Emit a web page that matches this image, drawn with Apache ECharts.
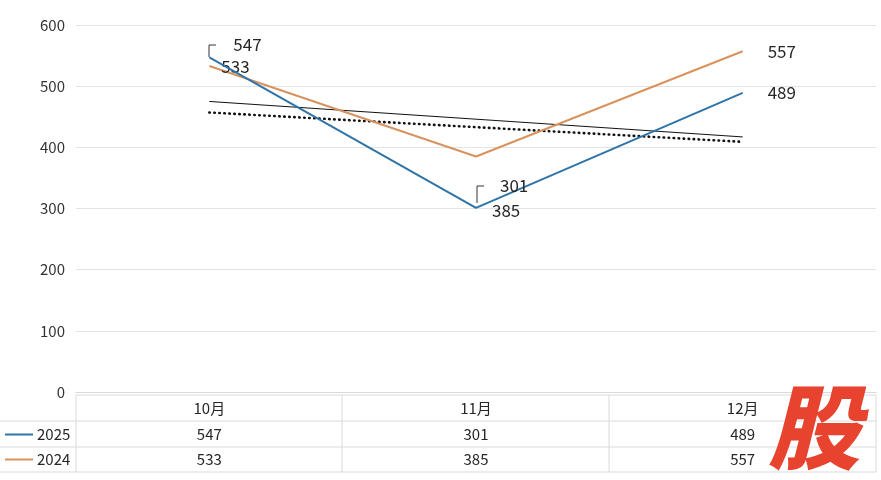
<!DOCTYPE html>
<html>
<head>
<meta charset="utf-8">
<script src="https://cdn.jsdelivr.net/npm/echarts@6/dist/echarts.min.js"></script>
<style>
  html, body { margin: 0; padding: 0; background: #fff; }
  #chart { width: 881px; height: 480px; }
</style>
</head>
<body>
<div id="chart"></div>
<script>
// data
var months = ['10月', '11月', '12月'];
var sales2025 = [547, 301, 489];
var sales2024 = [533, 385, 557];
var trendSolid = [475, 446, 417];
var trendDotted = [457, 433, 409];
var yTicks = { min: 0, max: 600, interval: 100 };

var blue = '#2e74a6';
var orange = '#d8925d';
var txt = '#262626';
var font = '"Noto Sans CJK SC", "Noto Sans", sans-serif';

// layout of the plot and the data table under it
var gLeft = 76, gRight = 876, gTop = 25, gBottom = 392;
var rows = [395, 421, 447, 472];
var cols = [76, 342, 609, 876];

var chart = echarts.init(document.getElementById('chart'));

function rowAxis(data, margin) {
  return {
    type: 'category', data: data, position: 'bottom', gridIndex: 0,
    axisLine: { show: false }, axisTick: { show: false }, splitLine: { show: false },
    axisLabel: { margin: margin, verticalAlign: 'middle', fontSize: 15, color: txt, fontFamily: font }
  };
}

// table lines
var lines = [];
lines.push({ type: 'line', shape: { x1: cols[0], y1: rows[0], x2: cols[3], y2: rows[0] } });
for (var r = 1; r < rows.length; r++) {
  lines.push({ type: 'line', shape: { x1: 0, y1: rows[r], x2: cols[3], y2: rows[r] } });
}
for (var c = 0; c < cols.length; c++) {
  lines.push({ type: 'line', shape: { x1: cols[c], y1: rows[0], x2: cols[c], y2: rows[3] } });
}
lines.forEach(function (l) { l.style = { stroke: '#dadada', lineWidth: 1 }; l.silent = true; });

var legendBase = { left: 5, padding: 0, icon: 'rect', itemWidth: 28, itemHeight: 2, itemGap: 4,
  textStyle: { fontSize: 15, color: txt, fontFamily: font, padding: [0, 0, 0, -1] } };

var option = {
  animation: false,
  backgroundColor: '#fff',
  grid: { left: gLeft, right: 881 - gRight, top: gTop, bottom: 480 - gBottom },
  legend: [
    Object.assign({ data: ['2025'], top: 427 }, legendBase),
    Object.assign({ data: ['2024'], top: 452 }, legendBase)
  ],
  xAxis: [
    { type: 'category', data: months, boundaryGap: true,
      axisLine: { lineStyle: { color: '#d9d9d9' } }, axisTick: { show: false },
      axisLabel: { show: false } },
    rowAxis(months, 16),
    rowAxis(sales2025.map(String), 42),
    rowAxis(sales2024.map(String), 67)
  ],
  yAxis: {
    type: 'value', min: yTicks.min, max: yTicks.max, interval: yTicks.interval,
    axisLine: { show: false }, axisTick: { show: false },
    axisLabel: { margin: 11, fontSize: 15, color: '#333', fontFamily: font },
    splitLine: { lineStyle: { color: '#e3e3e3', width: 1 } }
  },
  series: [
    {
      name: '2025', type: 'line', color: blue,
      symbol: 'circle', symbolSize: 0, showSymbol: true,
      lineStyle: { width: 2, color: blue },
      label: { show: true, position: 'right', distance: 4, fontSize: 17, color: txt, fontFamily: font },
      data: [
        { value: sales2025[0], label: { offset: [20, -13] } },
        { value: sales2025[1], label: { offset: [20, -22] } },
        { value: sales2025[2], label: { offset: [21, 0] } }
      ],
      z: 3
    },
    {
      name: '2024', type: 'line', color: orange,
      symbol: 'circle', symbolSize: 0, showSymbol: true,
      lineStyle: { width: 2, color: orange },
      label: { show: true, position: 'right', distance: 4, fontSize: 17, color: txt, fontFamily: font },
      data: [
        { value: sales2024[0], label: { offset: [8, 1] } },
        { value: sales2024[1], label: { offset: [12, 54] } },
        { value: sales2024[2], label: { offset: [21, 0] } }
      ],
      z: 2
    },
    {
      name: 'trend2025', type: 'line', data: trendSolid, showSymbol: false, silent: true,
      lineStyle: { width: 1, color: '#111' }, z: 1
    },
    {
      name: 'trend2024', type: 'line', data: trendDotted, showSymbol: false, silent: true,
      lineStyle: { width: 2.6, color: '#111', type: [0.5, 4.5], cap: 'round' }, z: 1
    }
  ],
  graphic: lines.concat([
    // small leader brackets next to moved labels
    { type: 'polyline', shape: { points: [[209, 57], [209, 45], [216, 45]] }, style: { stroke: '#333', lineWidth: 1, fill: null }, z: 10 },
    { type: 'polyline', shape: { points: [[477, 203], [477, 186], [484, 186]] }, style: { stroke: '#333', lineWidth: 1, fill: null }, z: 10 },
    { type: 'text', left: 768, top: 381,
      style: { text: '股', fill: '#e8432e', font: 'italic 900 92px "Noto Sans CJK SC"' }, z: 20 }
  ])
};

chart.setOption(option);
</script>
</body>
</html>
